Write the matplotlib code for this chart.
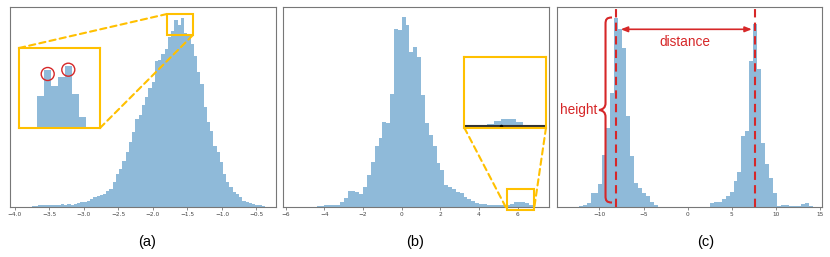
import numpy as np
import matplotlib
matplotlib.use("Agg")
import matplotlib.pyplot as plt
from matplotlib.patches import Rectangle, Circle, ConnectionPatch, PathPatch, FancyArrowPatch
from matplotlib.path import Path

####### DATA (bar heights, pixel units above the baseline) #######

# (a) skewed, slightly bimodal peak
a_start, a_width = -3.758, 0.047
a_heights = [1, 1, 1.5, 1.5, 2, 1.5, 2, 2, 2, 2.5, 2, 2.5, 2, 2.5, 3.5, 4.5, 5, 6,
             7.5, 9.5, 11, 11.5, 12.5, 16, 17.5, 25, 32.5, 37.5, 46, 55, 65, 75, 88,
             92, 102, 110, 119, 125, 146, 147, 153, 158, 170, 176, 187, 182, 189, 174,
             172, 163, 151, 135, 123, 100, 85, 76, 61, 55, 45, 33, 25, 20, 15, 12.5,
             10, 5.5, 5, 3.5, 2.5, 1.7, 1.3, 1]
a_ticks = [-4.0, -3.5, -3.0, -2.5, -2.0, -1.5, -1.0, -0.5]
a_zoom_heights = [32, 58, 42, 51, 62, 34, 11]          # inset bars (schematic)

# (b) main peak with a small far-right bump
b_start, b_width = -4.4, 0.2
b_heights = [1, 1, 1.3, 1.3, 1.3, 2, 4.3, 8.3, 16, 15.3, 14.3, 12.3, 20, 31.7, 45,
             60.7, 69, 84.3, 84, 112.3, 177.7, 176.7, 189.3, 181.7, 154.3, 160, 150,
             111.7, 83.3, 71.7, 60.7, 44, 36.7, 21.7, 20, 17.3, 15, 13.3, 10, 7.3,
             5.3, 3.7, 3, 2.3, 2, 1.7, 1.7, 1.3, 1.3, 1.7, 3, 4.3, 5, 5, 3.7, 2]
b_ticks = [-6, -4, -2, 0, 2, 4, 6]
b_zoom_heights = [1.3, 1.3, 2.3, 3.7, 6.7, 8.7, 8.3, 5.7, 1.7]

# (c) two separated modes
c_start, c_width = -12.36, 0.45
c_heights = [0.7, 1.5, 3.5, 13.3, 13.3, 22.3, 51.7, 79, 114, 189, 177.3, 159, 90.7,
             50.7, 24, 19, 14, 10.7, 4.7, 1.3,
             0, 0, 0, 0, 0, 0, 0, 0, 0, 0, 0, 0, 0,
             3.3, 4.3, 4.3, 7.3, 10.7, 15, 25.7, 34.7, 70.7, 75.7, 145.7, 182.3, 137.3,
             63.3, 42.3, 29, 14, 0.7, 1.7, 1.3, 0.7, 0.7, 1.0, 3.0, 3.3, 0.7]
c_ticks = [-10, -5, 0, 5, 10, 15]
c_modes = [-8.1, 7.68]

####### STYLE #######

BLUE = '#8fbad9'
GOLD = '#ffc000'
RED = '#d62728'
SPINE = '#777777'
ANNOT_FONT = 'Liberation Sans'

fig = plt.figure(figsize=(8.3, 2.57), dpi=100)
W, H = 830, 257


def px_axes(left, right, top, bottom):
    return fig.add_axes([left / W, (H - bottom) / H, (right - left) / W, (bottom - top) / H])


def edges(start, width, n):
    return start + width * np.arange(n + 1)


def style(ax, ticks, xlim):
    ax.set_xlim(*xlim)
    ax.set_ylim(0, 199.5)
    ax.set_yticks([])
    ax.set_xticks(ticks)
    ax.tick_params(axis='x', labelsize=4.2, labelcolor='#444444', color=SPINE,
                   length=2, width=0.6, pad=2)
    for s in ax.spines.values():
        s.set_color(SPINE)
        s.set_linewidth(0.8)


def hist(ax, start, width, heights):
    ax.stairs(heights, edges(start, width, len(heights)), fill=True, color=BLUE, lw=0)


def connect(ax_from, xy_from, ax_to, xy_to):
    con = ConnectionPatch(xyA=xy_from, coordsA=ax_from.transAxes, xyB=xy_to,
                          coordsB=ax_to.transData, color=GOLD, lw=1.5,
                          linestyle=(0, (3, 2)))
    fig.add_artist(con)


def inset_frame(ax):
    ax.set_xticks([])
    ax.set_yticks([])
    for s in ax.spines.values():
        s.set_color(GOLD)
        s.set_linewidth(1.5)


######### (a) #########
ax1 = px_axes(10, 276, 7, 206.5)
hist(ax1, a_start, a_width, a_heights)
style(ax1, a_ticks, (-4.072, -0.217))
ax1.set_xticklabels([f'{t:.1f}'.replace('-', '\u2212') for t in a_ticks])

box_a = (-1.797, 171.5, 0.377, 21)
ax1.add_patch(Rectangle(box_a[:2], box_a[2], box_a[3], fill=False, ec=GOLD, lw=1.5,
                        clip_on=False, zorder=5))
ins1 = px_axes(19, 100, 48, 128)
ins1.set_xlim(0, 81)
ins1.set_ylim(0, 80)
ins1.stairs(a_zoom_heights, edges(18.3, 6.95, len(a_zoom_heights)), fill=True,
            color=BLUE, lw=0)
inset_frame(ins1)
for cx, cy in [(28.7, 54), (49.3, 58.3)]:
    ins1.add_patch(Circle((cx, cy), 6.5, fill=False, ec=RED, lw=1, clip_on=False))
connect(ins1, (0, 1), ax1, (box_a[0], box_a[1] + box_a[3]))
connect(ins1, (1, 0), ax1, (box_a[0] + box_a[2], box_a[1]))

######### (b) #########
ax2 = px_axes(283.3, 549, 7, 206.5)
hist(ax2, b_start, b_width, b_heights)
style(ax2, b_ticks, (-6.13, 7.62))
ax2.set_xticklabels([str(t).replace('-', '\u2212') for t in b_ticks])

box_b = (5.46, -3.5, 1.38, 21)
ax2.add_patch(Rectangle(box_b[:2], box_b[2], box_b[3], fill=False, ec=GOLD, lw=1.5,
                        clip_on=False, zorder=5))
ins2 = px_axes(464.3, 546, 57.3, 127.7)
ins2.set_xlim(0, 81.7)
ins2.set_ylim(0, 70.4)
ins2.stairs(b_zoom_heights, edges(0.7, 7.22, len(b_zoom_heights)), baseline=2,
            fill=True, color=BLUE, lw=0)
ins2.axhline(2, color='#333333', lw=1.5)
ins2.plot([36.7], [2], 'o', color='black', ms=1.5)
inset_frame(ins2)
connect(ins2, (0, 0), ax2, (box_b[0], box_b[1]))
connect(ins2, (1, 0), ax2, (box_b[0] + box_b[2], box_b[1]))

######### (c) #########
ax3 = px_axes(556.7, 821.7, 7, 206.5)
hist(ax3, c_start, c_width, c_heights)
style(ax3, c_ticks, (-14.84, 15.18))
ax3.set_xticklabels([str(t).replace('-', '\u2212') for t in c_ticks])

for m in c_modes:
    ax3.axvline(m, color=RED, lw=1.5, linestyle=(0, (4, 2.5)), zorder=4)

arrow = FancyArrowPatch((c_modes[0] + 0.2, 177.2), (c_modes[1] - 0.1, 177.2),
                        arrowstyle='<|-|>,head_length=4,head_width=1.6',
                        color=RED, lw=1.2, zorder=5)
ax3.add_patch(arrow)
ax3.text(-0.3, 164.8, 'distance', color=RED, fontsize=9.8, family=ANNOT_FONT,
         ha='center', va='center')


# curly brace, drawn in picture pixels then mapped to data
def cpx(px, py):
    return ((px - 687.7) / 8.83, 206.5 - py)


brace_px = [(612, 17.5), (606.5, 17.5), (605.5, 19.5), (605.5, 24),
            (605.5, 103),
            (605.5, 107.5), (603, 109.5), (599, 110),
            (603, 110.5), (605.5, 112.5), (605.5, 117),
            (605.5, 196),
            (605.5, 200.5), (606.5, 202.5), (612, 202.5)]
codes = ([Path.MOVETO] + [Path.CURVE4] * 3 + [Path.LINETO] + [Path.CURVE4] * 6 +
         [Path.LINETO] + [Path.CURVE4] * 3)
brace = Path([cpx(*p) for p in brace_px], codes)
ax3.add_patch(PathPatch(brace, fill=False, ec=RED, lw=1.5, clip_on=False, zorder=5))
ax3.text(cpx(597, 110)[0], cpx(597, 110)[1], 'height', color=RED, fontsize=9.8,
         family=ANNOT_FONT, ha='right', va='center')

######### panel letters #########
for label, xpx in [('(a)', 147), ('(b)', 415), ('(c)', 706)]:
    fig.text(xpx / W, (H - 242) / H, label, fontsize=10.5, family=ANNOT_FONT,
             ha='center', va='center')

fig.savefig('out.png', dpi=100)
